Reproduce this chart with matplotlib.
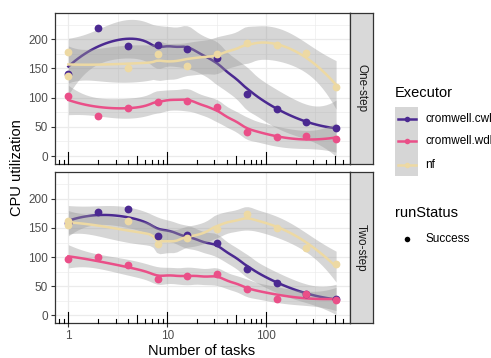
import numpy as np
import matplotlib
matplotlib.use("Agg")
import matplotlib.pyplot as plt
from matplotlib.lines import Line2D
from matplotlib.patches import Rectangle
from matplotlib.transforms import blended_transform_factory

plt.rcParams['font.family'] = ['Liberation Sans', 'DejaVu Sans']

# ---- data ----
executors = ["cromwell.cwl", "cromwell.wdl", "nf"]
colors = ["#4b2991", "#ea4f88", "#edd9a3"]
panels = ["One-step", "Two-step"]

tasks = [1, 2, 4, 8, 16, 32, 64, 128, 256, 512]
nf_tasks = [1, 1, 4, 8, 16, 32, 64, 128, 256, 512]

one_cwl = [140, 220, 188, 191, 183, 168, 107, 81, 58, 48]
one_wdl = [103, 69, 82, 93, 95, 84, 41, 32, 35, 29]
one_nf = [178, 137, 150, 174, 155, 174, 193, 190, 177, 118]

two_cwl = [158, 178, 182, 137, 138, 125, 80, 55, 37, 28]
two_wdl = [97, 101, 87, 63, 68, 71, 46, 28, 36, 26]
two_nf = [162, 155, 162, 123, 132, 149, 174, 150, 116, 88]

data = {
    "One-step": [(tasks, one_cwl), (tasks, one_wdl), (nf_tasks, one_nf)],
    "Two-step": [(tasks, two_cwl), (tasks, two_wdl), (nf_tasks, two_nf)],
}


def t_quantile(df, z=1.959964):
    # Cornish-Fisher expansion of the t quantile
    g1 = (z**3 + z) / 4
    g2 = (5 * z**5 + 16 * z**3 + 3 * z) / 96
    g3 = (3 * z**7 + 19 * z**5 + 17 * z**3 - 15 * z) / 384
    g4 = (79 * z**9 + 776 * z**7 + 1482 * z**5 - 1920 * z**3 - 945 * z) / 92160
    return z + g1 / df + g2 / df**2 + g3 / df**3 + g4 / df**4


def loess(x, y, x_new, span=0.75):
    # local quadratic fit with tricube weights (like R's loess) + 95% band
    x = np.asarray(x, float)
    y = np.asarray(y, float)
    n = len(x)
    q = int(np.floor(n * span))

    def row(x0):
        d = np.abs(x - x0)
        h = np.sort(d)[q - 1]
        u = np.clip(d / h, 0, 1)
        w = (1 - u**3)**3
        X = np.column_stack([np.ones(n), x - x0, (x - x0)**2])
        XtW = X.T * w
        return np.linalg.solve(XtW @ X, XtW)[0]

    L = np.array([row(x0) for x0 in x])
    res = y - L @ y
    M = (np.eye(n) - L).T @ (np.eye(n) - L)
    d1 = np.trace(M)
    d2 = np.trace(M @ M)
    sigma = np.sqrt(np.sum(res**2) / d1)
    tq = t_quantile(d1**2 / d2)
    Ln = np.array([row(x0) for x0 in x_new])
    fit = Ln @ y
    se = sigma * np.sqrt(np.sum(Ln**2, axis=1))
    return fit, fit - tq * se, fit + tq * se


W, H = 491, 358
fig = plt.figure(figsize=(W / 100, H / 100), dpi=100)


def fx(px):
    return px / W


def fy(py):
    return 1 - py / H


left, right = 55, 349.5
panel_px = [(12.7, 164), (172.3, 323.3)]
xlim = (10**-0.1355, 10**2.8448)
ylim = (-13.7, 245.6)

for i, name in enumerate(panels):
    top, bot = panel_px[i]
    ax = fig.add_axes([fx(left), fy(bot), fx(right - left), (bot - top) / H])
    ax.set_xscale('log')
    ax.set_xlim(*xlim)
    ax.set_ylim(*ylim)

    # grid like theme_bw
    ax.set_xticks([1, 10, 100])
    ax.set_xticks([10**0.5, 10**1.5, 10**2.5], minor=True)
    ax.set_yticks([0, 50, 100, 150, 200])
    ax.set_yticks([25, 75, 125, 175, 225], minor=True)
    ax.grid(which='major', color='#ebebeb', lw=0.9)
    ax.grid(which='minor', color='#ebebeb', lw=0.45)
    ax.set_axisbelow(True)
    for s in ax.spines.values():
        s.set_color('#333333')
        s.set_linewidth(0.9)
    ax.tick_params(which='minor', length=0)
    ax.tick_params(which='major', length=3, width=0.8, color='#333333',
                   labelsize=8.5, labelcolor='#4d4d4d', pad=2)
    if i == 0:
        ax.tick_params(axis='x', which='major', length=0, labelbottom=False)
    else:
        ax.set_xticklabels(['1', '10', '100'])

    # smooths
    grid = np.linspace(0, np.log10(512), 80)
    for j, (xs, ys) in enumerate(data[name]):
        fit, lo, hi = loess(np.log10(xs), ys, grid)
        ax.fill_between(10**grid, lo, hi, color='#999999', alpha=0.4, lw=0, zorder=2 + j * 0.1)
        ax.plot(10**grid, fit, color=colors[j], lw=1.8, zorder=2.05 + j * 0.1)
    for j, (xs, ys) in enumerate(data[name]):
        ax.plot(xs, ys, 'o', color=colors[j], ms=5.6, mec='none', zorder=3 + j * 0.1)

    # log ticks along the bottom (annotation_logticks)
    trans = blended_transform_factory(ax.transData, ax.transAxes)
    hpx = bot - top
    for dec in [0.1, 1, 10, 100]:
        for m in range(1, 10):
            v = m * dec
            if v < xlim[0] or v > xlim[1]:
                continue
            length = 11.8 if m == 1 else (7.9 if m == 5 else 3.9)
            ax.plot([v, v], [0, length / hpx], transform=trans, color='black',
                    lw=0.8, clip_on=False, zorder=4)

    # facet strip
    sax = fig.add_axes([fx(right), fy(bot), fx(23), (bot - top) / H])
    sax.set_facecolor('#d9d9d9')
    sax.set_xticks([])
    sax.set_yticks([])
    for s in sax.spines.values():
        s.set_color('#333333')
        s.set_linewidth(0.9)
    sax.text(0.5, 0.5, name, rotation=270, ha='center', va='center',
             fontsize=8.5, color='#1a1a1a', transform=sax.transAxes)

fig.text(fx(17), fy(168), 'CPU utilization', rotation=90, ha='center', va='center', fontsize=10.5)
fig.text(fx(202), fy(351), 'Number of tasks', ha='center', va='center', fontsize=10.5)

# legend drawn by hand
fig.text(fx(395), fy(93), 'Executor', ha='left', va='center', fontsize=10.5)
for j, name in enumerate(executors):
    ytop = 107 + j * 23
    fig.patches.append(Rectangle((fx(395), fy(ytop + 23)), fx(23), 23 / H,
                                 transform=fig.transFigure, color='#d6d6d6', lw=0))
    yc = fy(ytop + 11.5)
    fig.lines.append(Line2D([fx(397.5), fx(415.5)], [yc, yc], transform=fig.transFigure,
                            color=colors[j], lw=1.8))
    fig.lines.append(Line2D([fx(406.5)], [yc], transform=fig.transFigure, marker='o',
                            color=colors[j], ms=4, mec='none'))
    fig.text(fx(425), yc, name, ha='left', va='center', fontsize=8.5)

fig.text(fx(395), fy(213), 'runStatus', ha='left', va='center', fontsize=10.5)
fig.lines.append(Line2D([fx(406.5)], [fy(239)], transform=fig.transFigure, marker='o',
                        color='black', ms=4, mec='none'))
fig.text(fx(425), fy(239), 'Success', ha='left', va='center', fontsize=8.5)

fig.savefig('out.png', dpi=100)
